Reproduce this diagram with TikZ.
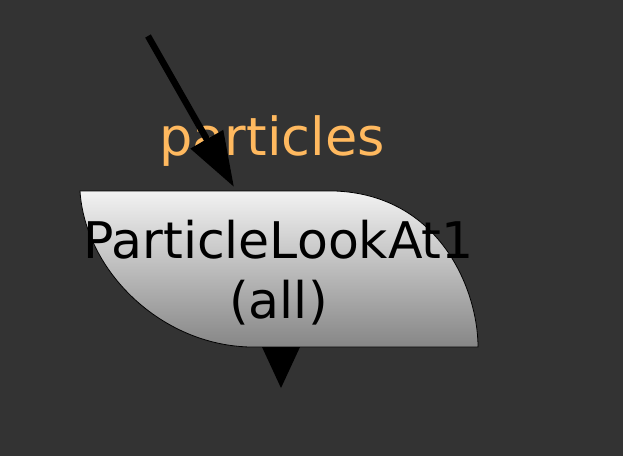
\documentclass[tikz,border=0pt]{standalone}
\usepackage{fontspec}
\setmainfont{DejaVu Sans}
\usetikzlibrary{arrows.meta,positioning}
\definecolor{bgdark}{RGB}{51,51,51}
\definecolor{portlabel}{RGB}{255,185,95}
\definecolor{leaftop}{RGB}{242,242,242}
\definecolor{leafbot}{RGB}{134,134,134}
\tikzset{
  wire/.style={line width=6.5pt, -{Triangle[length=55pt,width=36pt]}},
  leaf/.style={draw=black, line width=0.8pt, top color=leaftop, bottom color=leafbot},
  nodetext/.style={align=center, font=\fontsize{50.5}{59.5}\selectfont, inner sep=0pt},
  porttext/.style={text=portlabel, font=\fontsize{52.5}{60}\selectfont, inner sep=0pt}
}
\begin{document}
\begin{tikzpicture}[x=1pt,y=-1pt]
  \fill[bgdark] (0,0) rectangle (623,456);
  \useasboundingbox (0,0) rectangle (623,456);

  % node body
  \path[leaf] (80,191) -- (335,191)
    .. controls (440,195) and (478,290) .. (478,347)
    -- (250,347)
    .. controls (160,345) and (85,270) .. (80,191) -- cycle;
  \node[nodetext, anchor=base] (look) at (278.5,318) {ParticleLookAt1\\(all)};

  % ports
  \coordinate (src) at (148,36);
  \coordinate (in) at (234,187);
  \coordinate (out) at (281,347);
  \node[porttext, anchor=base] (lbl) at (272,155) {particles};

  \draw[wire] (src) -- (in);
  \fill[black] ([xshift=-19pt]out) -- ([xshift=19pt]out) -- ([yshift=-41pt]out) -- cycle;
\end{tikzpicture}
\end{document}
